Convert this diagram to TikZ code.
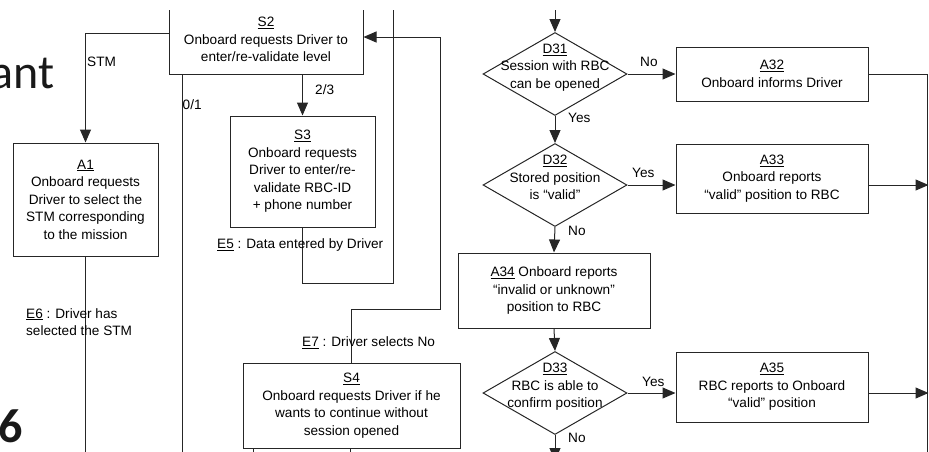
\documentclass[tikz,border=0pt]{standalone}
\usepackage{fontspec}
\setmainfont{Liberation Sans}
\newfontfamily\slidefont{Carlito}
\usetikzlibrary{arrows.meta,shapes.geometric,calc}
\newcommand\dfont{\fontsize{13.6}{17.5}\selectfont}
\tikzset{
  box/.style={draw=black!85, line width=1pt, align=center, inner sep=0pt, font=\dfont},
  dia/.style={draw=black!85, line width=1pt, diamond, inner sep=0pt, minimum width=144pt, minimum height=83pt},
  lbl/.style={font=\dfont, inner sep=0pt},
  conn/.style={line width=1pt, draw=black!85},
  arr/.style={conn, -{Triangle[length=13pt,width=11pt]}},
  slide/.style={inner sep=0pt, text=black!90}
}
\begin{document}
\begin{tikzpicture}[x=1pt,y=-1pt]
\useasboundingbox (0,0) rectangle (929,451);
\clip (0,10) rectangle (929,451);

% slide fragments
\node[slide, anchor=base east, font=\slidefont\fontsize{48}{48}\selectfont] (tant) at (55,88) {ant};
\node[slide, anchor=base west, font=\slidefont\bfseries\fontsize{48}{48}\selectfont] (tsix) at (-1.5,442) {6};

% left part
\node[box, minimum width=194pt, minimum height=69pt] (S2) at (266,39.5) {\underline{S2}\\Onboard requests Driver to\\enter/re-validate level};
\node[box, minimum width=145pt, minimum height=111pt] (S3) at (302.5,171.5) {\underline{S3}\\Onboard requests\\Driver to enter/re-\\validate RBC-ID\\+ phone number};
\node[box, minimum width=217pt, minimum height=85pt] (S4) at (351.5,405.5) {\underline{S4}\\Onboard requests Driver if he\\wants to continue without\\session opened};
\node[box, minimum width=145pt, minimum height=113pt] (A1) at (85.5,199.5) {\underline{A1}\\Onboard requests\\Driver to select the\\STM corresponding\\to the mission};

% right part
\node[dia] (D31) at (555,74) {};
\node[lbl, align=center] (D31t) at (555,67.5) {\underline{D31}\\Session with RBC\\can be opened};
\node[dia] (D32) at (555,185) {};
\node[lbl, align=center] (D32t) at (555,177.5) {\underline{D32}\\Stored position\\is “valid”};
\node[dia] (D33) at (555,393) {};
\node[lbl, align=center] (D33t) at (555,387) {\underline{D33}\\RBC is able to\\confirm position};

\node[box, minimum width=192pt, minimum height=54pt] (A32) at (772,74) {\underline{A32}\\Onboard informs Driver};
\node[box, minimum width=192pt, minimum height=69pt] (A33) at (772,178.5) {\underline{A33}\\Onboard reports\\“valid” position to RBC};
\node[box, minimum width=192pt, minimum height=75pt] (A34) at (554,290.5) {\underline{A34} Onboard reports\\“invalid or unknown”\\position to RBC};
\node[box, minimum width=192pt, minimum height=70pt] (A35) at (772,387) {\underline{A35}\\RBC reports to Onboard\\“valid” position};

% coordinates for free ends and bends
\coordinate (topD) at (555,0);
\coordinate (e5c) at (393,283);
\coordinate (e5t) at (393,0);
\coordinate (e7a) at (440,309);
\coordinate (bot01) at (182,460);
\coordinate (botA1) at (85.5,460);
\coordinate (s4l) at (253,460);
\coordinate (s4r) at (350,460);
\coordinate (rTop) at (927,74);
\coordinate (rBot) at (927,460);
\coordinate (r1) at (928.5,185);
\coordinate (r2) at (928.5,393);
\coordinate (botD) at (555,461);

% connectors left
\draw[arr] ([yshift=6.5pt]S2.west) -| (A1.north);
\draw[conn] (S2.south west -| bot01) -- (bot01);
\draw[arr] (S2.south -| S3.north) -- (S3.north);
\draw[conn] (S3.south) |- (e5c) -- (e5t);
\draw[arr] (S4.north) |- (e7a) |- ([yshift=2.5pt]S2.east);
\draw[conn] (A1.south) -- (botA1);
\draw[conn] (S4.south -| s4l) -- (s4l);
\draw[conn] (S4.south -| s4r) -- (s4r);

% connectors right
\draw[arr] (topD) -- (D31.north);
\draw[arr] (D31.east) -- (A32.west);
\draw[conn] (A32.east) -- (rTop) -- (rBot);
\draw[arr] (D31.south) -- (D32.north);
\draw[arr] (D32.east) -- (D32.east -| A33.west);
\draw[arr] (D32.east -| A33.east) -- (r1);
\draw[arr] (D32.south) -- (A34.north);
\draw[arr] (A34.south) -- (D33.north);
\draw[arr] (D33.east) -- (D33.east -| A35.west);
\draw[arr] (D33.east -| A35.east) -- (r2);
\draw[arr] (D33.south) -- (botD);

% labels
\node[lbl, anchor=west] (lSTM) at (87,62) {STM};
\node[lbl, anchor=west] (l01) at (182.5,105) {0/1};
\node[lbl, anchor=west] (l23) at (315,90) {2/3};
\node[lbl, anchor=west] (lE5) at (217,245) {\underline{E5} : Data entered by Driver};
\node[lbl, anchor=west, align=left] (lE6) at (26,322) {\underline{E6} : Driver has\\selected the STM};
\node[lbl, anchor=west] (lE7) at (302,343) {\underline{E7} : Driver selects No};
\node[lbl, anchor=west] (lNo1) at (640,62) {No};
\node[lbl, anchor=west] (lYes1) at (568,118) {Yes};
\node[lbl, anchor=west] (lYes2) at (632,173) {Yes};
\node[lbl, anchor=west] (lNo2) at (568,231) {No};
\node[lbl, anchor=west] (lYes3) at (642,382) {Yes};
\node[lbl, anchor=west] (lNo3) at (568,438) {No};
\end{tikzpicture}
\end{document}
